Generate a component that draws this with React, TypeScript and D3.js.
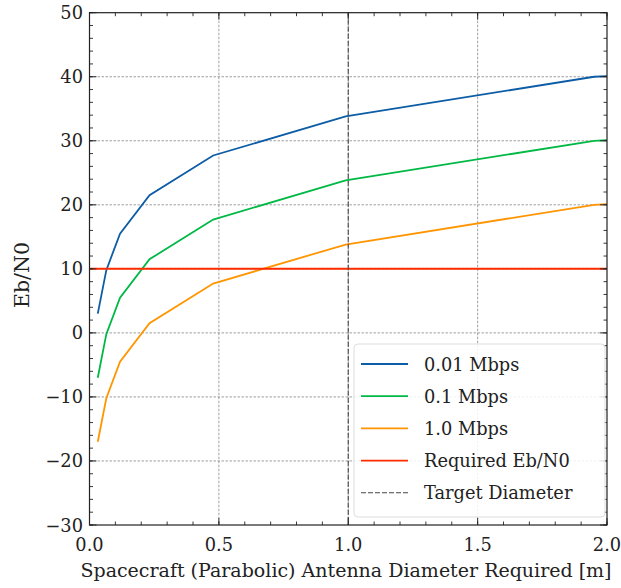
import React from "react";
import * as d3 from "d3";

const diameters = [0.032, 0.065, 0.118, 0.232, 0.478, 0.99, 1.95, 2.0];
const rate001 = [3.0, 9.8, 15.5, 21.5, 27.7, 33.8, 40.0, 40.1];
const rate01 = [-7.0, -0.2, 5.5, 11.5, 17.7, 23.8, 30.0, 30.1];
const rate1 = [-17.0, -10.2, -4.5, 1.5, 7.7, 13.8, 20.0, 20.1];
const requiredEbN0 = 10;
const targetDiameter = 1.0;
const xTicks = [0.0, 0.5, 1.0, 1.5, 2.0];
const yTicks = [-30, -20, -10, 0, 10, 20, 30, 40, 50];
const seriesNames = ["0.01 Mbps", "0.1 Mbps", "1.0 Mbps", "Required Eb/N0", "Target Diameter"];
const colors = ["#0C5DA5", "#00B945", "#FF9500", "#FF2C00", "#474747"];

const W = 621, H = 588;
const L = 89.5, R = 607, T = 12.7, B = 525;
const font = "'DejaVu Serif', serif";
const fs = 17.8;

export default function App() {
  const x = d3.scaleLinear().domain([0, 2]).range([L, R]);
  const y = d3.scaleLinear().domain([-30, 50]).range([B, T]);
  const line = d3.line<[number, number]>().x(d => x(d[0])).y(d => y(d[1]));
  const series = [rate001, rate01, rate1].map(vals => diameters.map((d, i) => [d, vals[i]] as [number, number]));
  const xMinor = d3.range(0, 2.0001, 0.1);
  const yMinor = d3.range(-30, 50.001, 2);
  const legendX = 354, legendY = 344, legendW = 251, legendH = 173;
  const rowH = 32.2;
  return (
    <svg width={W} height={H} style={{ position: "absolute", left: 0, top: 0, background: "#fff" }}>
      <g>
        {xTicks.slice(1, -1).map(t => (
          <line key={"gx" + t} x1={x(t)} x2={x(t)} y1={T} y2={B} stroke="#888" strokeWidth={0.8} strokeDasharray="2.5,1.5" />
        ))}
        {yTicks.slice(1, -1).map(t => (
          <line key={"gy" + t} x1={L} x2={R} y1={y(t)} y2={y(t)} stroke="#888" strokeWidth={0.8} strokeDasharray="2.5,1.5" />
        ))}
      </g>
      <g clipPath="url(#clip)">
        {series.map((s, i) => (
          <path key={i} d={line(s) || ""} fill="none" stroke={colors[i]} strokeWidth={1.8} />
        ))}
        <line x1={x(0)} x2={x(2)} y1={y(requiredEbN0)} y2={y(requiredEbN0)} stroke={colors[3]} strokeWidth={2} />
        <line x1={x(targetDiameter)} x2={x(targetDiameter)} y1={T} y2={B} stroke={colors[4]} strokeWidth={1.1} strokeDasharray="5,2" />
      </g>
      <defs>
        <clipPath id="clip"><rect x={L} y={T} width={R - L} height={B - T} /></clipPath>
      </defs>
      <g stroke="#222" strokeWidth={0.9}>
        {xTicks.map(t => (
          <g key={"xt" + t}>
            <line x1={x(t)} x2={x(t)} y1={B} y2={B - 7} />
            <line x1={x(t)} x2={x(t)} y1={T} y2={T + 7} />
          </g>
        ))}
        {xMinor.map(t => (
          <g key={"xm" + t}>
            <line x1={x(t)} x2={x(t)} y1={B} y2={B - 3.5} />
            <line x1={x(t)} x2={x(t)} y1={T} y2={T + 3.5} />
          </g>
        ))}
        {yTicks.map(t => (
          <g key={"yt" + t}>
            <line x1={L} x2={L + 7} y1={y(t)} y2={y(t)} />
            <line x1={R} x2={R - 7} y1={y(t)} y2={y(t)} />
          </g>
        ))}
        {yMinor.map(t => (
          <g key={"ym" + t}>
            <line x1={L} x2={L + 3.5} y1={y(t)} y2={y(t)} />
            <line x1={R} x2={R - 3.5} y1={y(t)} y2={y(t)} />
          </g>
        ))}
      </g>
      <rect x={L} y={T} width={R - L} height={B - T} fill="none" stroke="#222" strokeWidth={1.2} />
      <g fontFamily={font} fontSize={fs} fill="#222">
        {xTicks.map(t => (
          <text key={"xl" + t} x={x(t)} y={551} textAnchor="middle">{t.toFixed(1)}</text>
        ))}
        {yTicks.map(t => (
          <text key={"yl" + t} x={83} y={y(t) + 6.5} textAnchor="end">{t < 0 ? "\u2212" + Math.abs(t) : String(t)}</text>
        ))}
        <text x={346} y={577} textAnchor="middle" fontSize={19}>Spacecraft (Parabolic) Antenna Diameter Required [m]</text>
        <text transform={`translate(29, 275) rotate(-90)`} textAnchor="middle" fontSize={20.5}>Eb/N0</text>
      </g>
      <g>
        <rect x={legendX} y={legendY} width={legendW} height={legendH} rx={4} fill="#fff" fillOpacity={0.85} stroke="#ddd" strokeWidth={1} />
        {seriesNames.map((name, i) => {
          const cy = legendY + 20 + i * rowH;
          return (
            <g key={name}>
              <line x1={361} x2={408} y1={cy} y2={cy} stroke={colors[i]} strokeWidth={i === 4 ? 1.1 : 1.8} strokeDasharray={i === 4 ? "5,2" : undefined} />
              <text x={424} y={cy + 6.5} fontFamily={font} fontSize={fs} fill="#222">{name}</text>
            </g>
          );
        })}
      </g>
    </svg>
  );
}
